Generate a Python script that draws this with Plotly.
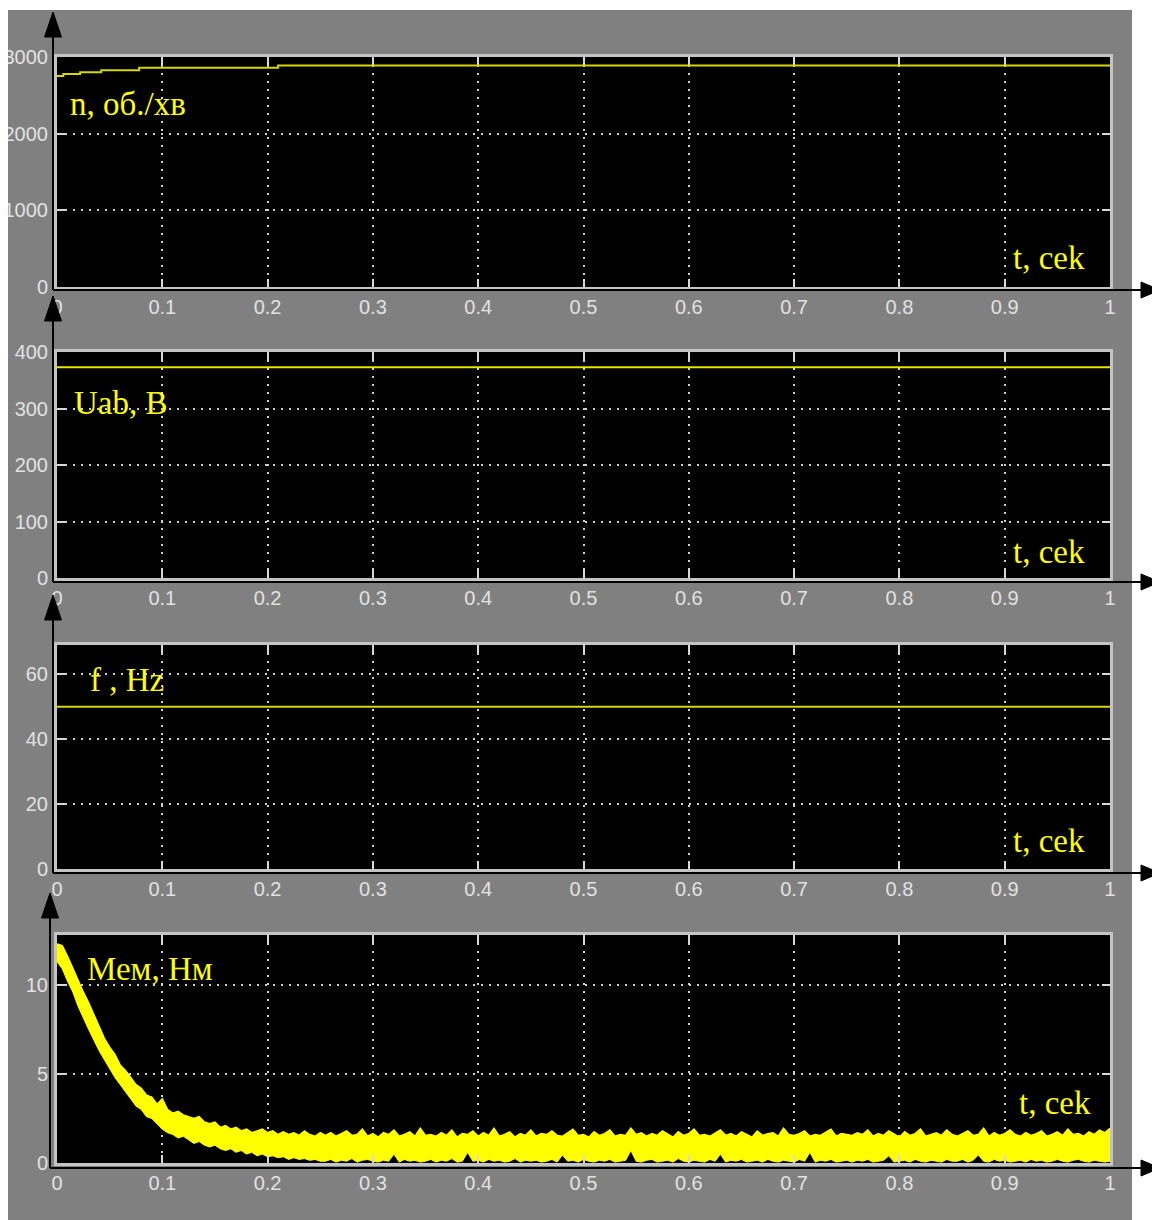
import plotly.graph_objects as go

# The page body adds an 8px margin, so the figure is drawn 8px in from the window corner.
OFF = 8
W, H = 1160 - OFF, 1220 - OFF

# ---------------- data ----------------
x_ticks = [0, 0.1, 0.2, 0.3, 0.4, 0.5, 0.6, 0.7, 0.8, 0.9, 1]
x_tick_labels = ["0", "0.1", "0.2", "0.3", "0.4", "0.5", "0.6", "0.7", "0.8", "0.9", "1"]

# speed n, rpm (step-like rise)
n_t = [0, 0.006, 0.022, 0.042, 0.078, 0.210, 1.0]
n_val = [2752, 2779, 2800, 2826, 2860, 2890, 2890]
n_yticks = [0, 1000, 2000, 3000]

# line voltage Uab, V
u_t = [0, 1]
u_val = [373, 373]
u_yticks = [0, 100, 200, 300, 400]

# frequency f, Hz
f_t = [0, 1]
f_val = [50, 50]
f_yticks = [0, 20, 40, 60]

# electromagnetic torque band (upper / lower envelope), sampled every 5 ms
m_t = [i * 0.005 for i in range(201)]
m_upper = [
    12.3, 12.2, 11.6, 10.9, 10.3, 9.6, 9.0, 8.3, 7.7, 7.0,
    6.5, 6.1, 5.5, 5.2, 4.8, 4.4, 4.2, 3.8, 3.7, 3.3,
    3.6, 3.0, 2.8, 2.9, 2.7, 2.6, 2.5, 2.6, 2.3, 2.2,
    2.3, 2.0, 2.1, 1.9, 2.0, 1.8, 1.9, 1.7, 1.8, 1.9,
    1.7, 1.8, 1.6, 1.75, 1.6, 1.7, 1.55, 1.8, 1.6, 1.5,
    1.7,
    1.55, 1.70, 1.50, 1.65, 1.80, 1.55, 1.60, 1.90, 1.50, 1.65,
    1.45, 1.70, 1.60, 1.85, 1.50, 1.60, 1.75, 1.50, 1.95, 1.55,
    1.60, 1.50, 1.70, 1.55, 1.85, 1.45, 1.65, 1.60, 1.80, 1.50,
    1.70, 1.55, 1.95, 1.50, 1.60, 1.75, 1.45, 1.65, 1.55, 1.85,
    1.50, 1.65, 1.60, 1.80, 1.55, 1.50, 1.70, 1.90, 1.55, 1.60,
    1.45, 1.75, 1.55, 1.65, 1.85, 1.50, 1.60, 1.55, 1.95, 1.60,
    1.70, 1.50, 1.65, 1.55, 1.80, 1.60, 1.45, 1.75, 1.55, 1.65,
    1.90, 1.55, 1.60, 1.50, 1.70, 1.85, 1.55, 1.65, 1.50, 1.75,
    1.60, 1.45, 1.80, 1.55, 1.65, 1.70, 1.50, 1.95, 1.60, 1.55,
    1.65, 1.80, 1.50, 1.60, 1.55, 1.75, 1.90, 1.50, 1.65, 1.60,
    1.55, 1.70, 1.60, 1.85, 1.50, 1.65, 1.55, 1.80, 1.60, 1.45,
    1.75, 1.55, 1.65, 1.90, 1.50, 1.60, 1.70, 1.55, 1.85, 1.60,
    1.50, 1.65, 1.80, 1.55, 1.60, 1.95, 1.50, 1.70, 1.55, 1.65,
    1.85, 1.60, 1.50, 1.70, 1.55, 1.65, 1.80, 1.50, 1.60, 1.75,
    1.55, 1.90, 1.60, 1.65, 1.50, 1.75, 1.60, 1.85, 1.70, 1.95,
]
m_lower = [
    11.3, 10.9, 10.2, 9.6, 8.8, 8.1, 7.5, 6.9, 6.3, 5.8,
    5.3, 4.8, 4.4, 4.0, 3.6, 3.2, 3.0, 2.6, 2.5, 2.2,
    1.9, 1.7, 1.6, 1.4, 1.5, 1.3, 1.1, 1.2, 1.0, 0.9,
    1.0, 0.8, 0.7, 0.8, 0.6, 0.7, 0.5, 0.6, 0.4, 0.5,
    0.35, 0.4, 0.3, 0.35, 0.2, 0.3, 0.2, 0.25, 0.15, 0.2,
    0.1,
    0.10, 0.20, 0.05, 0.15, 0.10, 0.25, 0.05, 0.15, 0.20, 0.10,
    0.05, 0.15, 0.10, 0.50, 0.05, 0.20, 0.10, 0.15, 0.05, 0.10,
    0.20, 0.05, 0.15, 0.10, 0.25, 0.05, 0.10, 0.60, 0.10, 0.15,
    0.05, 0.20, 0.10, 0.15, 0.05, 0.10, 0.25, 0.05, 0.15, 0.10,
    0.15, 0.05, 0.10, 0.20, 0.05, 0.45, 0.10, 0.15, 0.05, 0.20,
    0.10, 0.05, 0.15, 0.10, 0.20, 0.05, 0.10, 0.15, 0.70, 0.10,
    0.05, 0.15, 0.20, 0.05, 0.10, 0.15, 0.05, 0.25, 0.10, 0.05,
    0.15, 0.10, 0.05, 0.20, 0.10, 0.50, 0.05, 0.15, 0.10, 0.20,
    0.05, 0.10, 0.15, 0.05, 0.20, 0.10, 0.05, 0.15, 0.10, 0.05,
    0.20, 0.10, 0.60, 0.05, 0.15, 0.10, 0.20, 0.05, 0.10, 0.15,
    0.05, 0.15, 0.10, 0.20, 0.05, 0.10, 0.15, 0.40, 0.05, 0.10,
    0.15, 0.05, 0.20, 0.10, 0.05, 0.15, 0.10, 0.05, 0.20, 0.10,
    0.10, 0.20, 0.05, 0.15, 0.45, 0.10, 0.05, 0.20, 0.10, 0.15,
    0.05, 0.10, 0.15, 0.05, 0.20, 0.10, 0.15, 0.05, 0.10, 0.20,
    0.10, 0.05, 0.15, 0.20, 0.10, 0.05, 0.15, 0.10, 0.05, 0.10,
]
m_yticks = [0, 5, 10]

panel_labels = ["n, об./хв", "Uab, В", "f , Hz", "Мем, Нм"]
t_label = "t, cek"

# ---------------- layout helpers (window pixel -> paper fraction) ----------------
def px(x):
    return (x - OFF) / W

def py(y):
    return 1 - (y - OFF) / H

# (top px, bottom px, y-range)
panels = [
    (57, 287, [0, 3000], n_yticks),
    (352, 578, [0, 400], u_yticks),
    (645, 869, [0, 69], f_yticks),
    (935, 1163, [0, 12.8], m_yticks),
]
X0, X1 = 57, 1110

fig = go.Figure()

LINE_COL = "#d6d600"
fig.add_trace(go.Scatter(x=n_t, y=n_val, mode="lines", line=dict(color=LINE_COL, width=2, shape="hv"),
                         xaxis="x", yaxis="y", showlegend=False))
fig.add_trace(go.Scatter(x=u_t, y=u_val, mode="lines", line=dict(color="#e6e600", width=2),
                         xaxis="x2", yaxis="y2", showlegend=False))
fig.add_trace(go.Scatter(x=f_t, y=f_val, mode="lines", line=dict(color=LINE_COL, width=2),
                         xaxis="x3", yaxis="y3", showlegend=False))
fig.add_trace(go.Scatter(x=m_t, y=m_lower, mode="lines", line=dict(color="#ffff00", width=1),
                         xaxis="x4", yaxis="y4", showlegend=False))
fig.add_trace(go.Scatter(x=m_t, y=m_upper, mode="lines", fill="tonexty", fillcolor="#ffff00",
                         line=dict(color="#ffff00", width=1.5),
                         xaxis="x4", yaxis="y4", showlegend=False))

tickfont = dict(family="Liberation Sans, Arial, sans-serif", size=20, color="#e2e2e2")
layout = dict(
    width=W, height=H,
    margin=dict(l=0, r=0, t=0, b=0, pad=0),
    paper_bgcolor="#808080",
    plot_bgcolor="#000000",
    showlegend=False,
)
for i, (top, bot, yr, yt) in enumerate(panels, start=1):
    sx = "" if i == 1 else str(i)
    layout["xaxis" + sx] = dict(
        domain=[px(X0), px(X1)], range=[0, 1], anchor="y" + sx, automargin=False,
        tickvals=x_ticks, ticktext=x_tick_labels,
        showgrid=True, gridcolor="#d0d0d0", gridwidth=2, griddash="2px,6px",
        zeroline=False, showline=True, mirror="ticks", linecolor="#c4c4c4", linewidth=3,
        ticks="inside", ticklen=8, tickwidth=2, tickcolor="#d8d8d8",
        tickfont=tickfont, fixedrange=True,
    )
    layout["yaxis" + sx] = dict(
        domain=[py(bot), py(top)], range=yr, anchor="x" + sx, automargin=False,
        tickvals=yt, ticktext=[str(v) for v in yt],
        showgrid=True, gridcolor="#d0d0d0", gridwidth=2, griddash="2px,6px",
        zeroline=False, showline=True, mirror="ticks", linecolor="#c4c4c4", linewidth=3,
        ticks="inside", ticklen=8, tickwidth=2, tickcolor="#d8d8d8",
        tickfont=tickfont, fixedrange=True, ticklabelstandoff=2,
    )
fig.update_layout(**layout)

shapes = []
# white page strips outside the grey figure window (top strip and right side)
for (a, b, c, d) in [(0, 0, 1160, 10), (1132, 0, 1160, 1220)]:
    shapes.append(dict(type="rect", xref="paper", yref="paper", layer="above",
                       x0=px(a), x1=px(c), y0=py(d), y1=py(b),
                       fillcolor="#ffffff", line=dict(width=0)))

# black axis arrows
arrows = [(53, 290, 12), (53, 582, 296), (53, 873, 595), (50, 1168, 893)]
for (ax, ybot, ytip) in arrows:
    shapes.append(dict(type="line", xref="paper", yref="paper", layer="above",
                       x0=px(ax), x1=px(ax), y0=py(ybot), y1=py(ytip + 20),
                       line=dict(color="#000000", width=2)))
    shapes.append(dict(type="path", xref="paper", yref="paper", layer="above",
                       path=f"M {px(ax)} {py(ytip)} L {px(ax - 8.5)} {py(ytip + 25)} L {px(ax + 8.5)} {py(ytip + 25)} Z",
                       fillcolor="#000000", line=dict(color="#000000", width=1)))
    shapes.append(dict(type="line", xref="paper", yref="paper", layer="above",
                       x0=px(ax), x1=px(1145), y0=py(ybot), y1=py(ybot),
                       line=dict(color="#000000", width=2)))
    shapes.append(dict(type="path", xref="paper", yref="paper", layer="above",
                       path=f"M {px(1160)} {py(ybot)} L {px(1141)} {py(ybot - 8)} L {px(1141)} {py(ybot + 8)} Z",
                       fillcolor="#000000", line=dict(color="#000000", width=1)))
fig.update_layout(shapes=shapes)

annots = []
label_pos = [(68, 104), (72, 403), (88, 680), (85, 969)]
t_pos = [(1011, 258), (1011, 552), (1011, 841), (1017, 1103)]
lab_font = dict(family="Liberation Serif, Times New Roman, serif", size=33, color="#ffff00")
for txt, (lx, ly) in zip(panel_labels, label_pos):
    annots.append(dict(text=txt, xref="paper", yref="paper", x=px(lx), y=py(ly),
                       xanchor="left", yanchor="middle", showarrow=False, font=lab_font))
for (lx, ly) in t_pos:
    annots.append(dict(text=t_label, xref="paper", yref="paper", x=px(lx), y=py(ly),
                       xanchor="left", yanchor="middle", showarrow=False, font=lab_font))
fig.update_layout(annotations=annots)

fig.write_html("out.html")
